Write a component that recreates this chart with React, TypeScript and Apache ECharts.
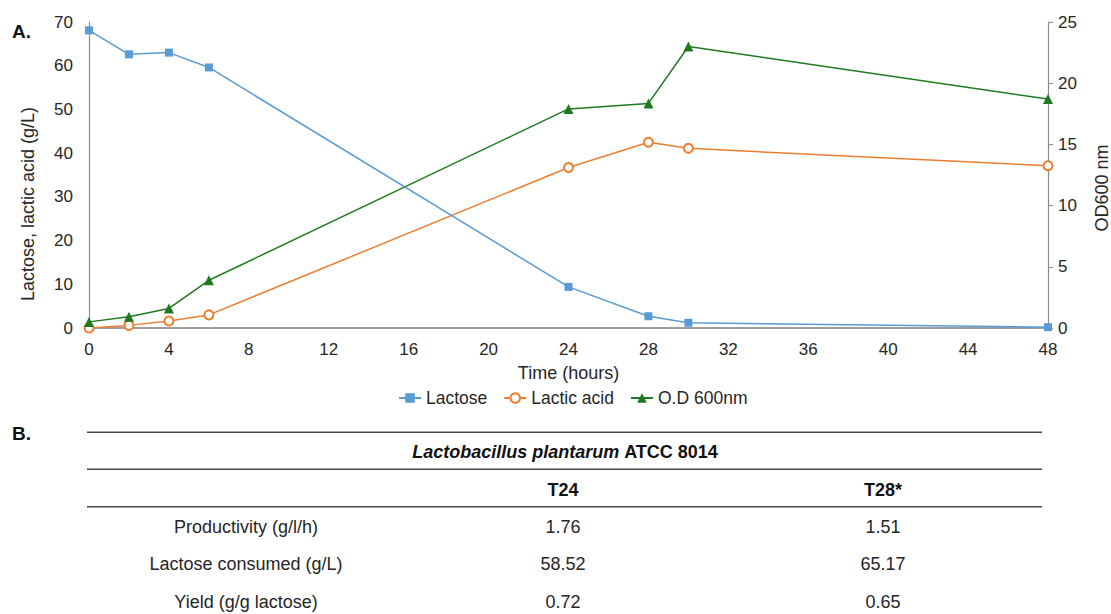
import React, { useEffect, useRef } from "react";
import * as echarts from "echarts";

// ---- Panel A data ----
const hours = [0, 2, 4, 6, 24, 28, 30, 48];
const lactose = [68.1, 62.6, 63.0, 59.6, 9.4, 2.7, 1.2, 0.2];
const lacticAcid = [0, 0.6, 1.6, 3.0, 36.7, 42.5, 41.1, 37.1];
const od600 = [0.5, 0.92, 1.6, 3.9, 17.9, 18.35, 23.0, 18.7];
const seriesNames = ["Lactose", "Lactic acid", "O.D 600nm"];

// ---- Panel B table ----
const tableStrain = "Lactobacillus plantarum";
const tableStrainCode = "ATCC 8014";
const tableColumns = ["T24", "T28*"];
const tableRows = ["Productivity (g/l/h)", "Lactose consumed (g/L)", "Yield (g/g lactose)"];
const t24Values = ["1.76", "58.52", "0.72"];
const t28Values = ["1.51", "65.17", "0.65"];

const FONT = "'Liberation Sans', Arial, Helvetica, sans-serif";
const TXT = "#262626";
const BLUE = "#5B9BD5";
const ORANGE = "#ED7D31";
const GREEN = "#1F7A1F";

function pairs(xs: number[], ys: number[]) {
  return xs.map((x, i) => [x, ys[i]]);
}

function txt(text: string, x: number, y: number, extra: any = {}) {
  return {
    type: "text",
    x,
    y,
    silent: true,
    style: {
      text,
      fill: TXT,
      fontFamily: FONT,
      fontSize: 18,
      align: "center",
      textAlign: "center",
      verticalAlign: "middle",
      textVerticalAlign: "middle",
      ...extra,
    },
  };
}

function hline(y: number) {
  return {
    type: "line",
    silent: true,
    shape: { x1: 87, y1: y, x2: 1042, y2: y },
    style: { stroke: "#4a4a4a", lineWidth: 1.4 },
  };
}

export default function App() {
  const ref = useRef<HTMLDivElement>(null);

  useEffect(() => {
    const chart = echarts.init(ref.current!, null, { renderer: "svg" });

    const colX = [563, 883];
    const rowY = [527, 564, 602];
    const graphics: any[] = [
      txt("A.", 12, 31, { align: "left", textAlign: "left", fontWeight: "bold", fontSize: 19, fill: "#111" }),
      txt("B.", 12, 433, { align: "left", textAlign: "left", fontWeight: "bold", fontSize: 19, fill: "#111" }),
      txt("Lactose, lactic acid (g/L)", 28, 204, {}),
      txt("OD600 nm", 1102, 188, {}),
      hline(432.3),
      hline(469.3),
      hline(506.7),
      {
        type: "text",
        x: 565,
        y: 452,
        silent: true,
        style: {
          text: `{i|${tableStrain}} {b|${tableStrainCode}}`,
          align: "center",
          textAlign: "center",
          verticalAlign: "middle",
          textVerticalAlign: "middle",
          fill: "#111",
          fontFamily: FONT,
          fontSize: 18,
          fontWeight: "bold",
          rich: {
            i: { fontStyle: "italic", fontWeight: "bold", fontSize: 18, fontFamily: FONT, fill: "#111" },
            b: { fontWeight: "bold", fontSize: 18, fontFamily: FONT, fill: "#111" },
          },
        },
      },
    ];
    // rotate axis names
    graphics[2].rotation = Math.PI / 2;
    graphics[3].rotation = Math.PI / 2;

    tableColumns.forEach((c, i) => {
      graphics.push(txt(c, colX[i], 490, { fontWeight: "bold", fill: "#111" }));
    });
    tableRows.forEach((r, i) => {
      graphics.push(txt(r, 246, rowY[i]));
      graphics.push(txt(t24Values[i], colX[0], rowY[i]));
      graphics.push(txt(t28Values[i], colX[1], rowY[i]));
    });

    chart.setOption({
      animation: false,
      backgroundColor: "#ffffff",
      textStyle: { fontFamily: FONT, color: TXT },
      grid: { left: 89, right: 63, top: 22, bottom: 286, containLabel: false },
      legend: {
        data: seriesNames,
        left: 393,
        top: 384,
        itemWidth: 22,
        itemHeight: 12,
        itemGap: 16,
        textStyle: { fontSize: 17.5, color: TXT, fontFamily: FONT },
      },
      xAxis: {
        type: "value",
        min: 0,
        max: 48,
        interval: 4,
        name: "Time (hours)",
        nameLocation: "middle",
        nameGap: 36,
        nameTextStyle: { fontSize: 18, color: TXT, fontFamily: FONT },
        axisLine: { show: true, lineStyle: { color: "#7f7f7f", width: 1.5 } },
        axisTick: { show: false },
        splitLine: { show: false },
        axisLabel: { fontSize: 17, color: TXT, margin: 13, fontFamily: FONT },
      },
      yAxis: [
        {
          type: "value",
          min: 0,
          max: 70,
          interval: 10,
          axisLine: { show: true, lineStyle: { color: "#8c8c8c", width: 1.2 } },
          axisTick: { show: false },
          splitLine: { show: false },
          axisLabel: { fontSize: 17, color: TXT, margin: 16, fontFamily: FONT },
        },
        {
          type: "value",
          position: "right",
          min: 0,
          max: 25,
          interval: 5,
          alignTicks: false,
          axisLine: { show: true, lineStyle: { color: "#8c8c8c", width: 1.2 } },
          axisTick: { show: true, length: 5, lineStyle: { color: "#8c8c8c" } },
          splitLine: { show: false },
          axisLabel: { fontSize: 17, color: TXT, margin: 10, fontFamily: FONT },
        },
      ],
      series: [
        {
          name: seriesNames[0],
          type: "line",
          yAxisIndex: 0,
          data: pairs(hours, lactose),
          symbol: "rect",
          symbolSize: 8,
          lineStyle: { color: BLUE, width: 1.5 },
          itemStyle: { color: BLUE },
          z: 3,
        },
        {
          name: seriesNames[1],
          type: "line",
          yAxisIndex: 0,
          data: pairs(hours, lacticAcid),
          symbol: "emptyCircle",
          symbolSize: 9,
          lineStyle: { color: ORANGE, width: 1.5 },
          itemStyle: { color: ORANGE, borderColor: ORANGE, borderWidth: 1 },
          z: 2,
        },
        {
          name: seriesNames[2],
          type: "line",
          yAxisIndex: 1,
          data: pairs(hours, od600),
          symbol: "triangle",
          symbolSize: 10,
          lineStyle: { color: GREEN, width: 1.5 },
          itemStyle: { color: GREEN },
          z: 2,
        },
      ],
      graphic: graphics,
    });

    return () => chart.dispose();
  }, []);

  return (
    <div
      ref={ref}
      style={{ position: "absolute", left: 0, top: 0, width: 1111, height: 614, background: "#fff" }}
    />
  );
}
